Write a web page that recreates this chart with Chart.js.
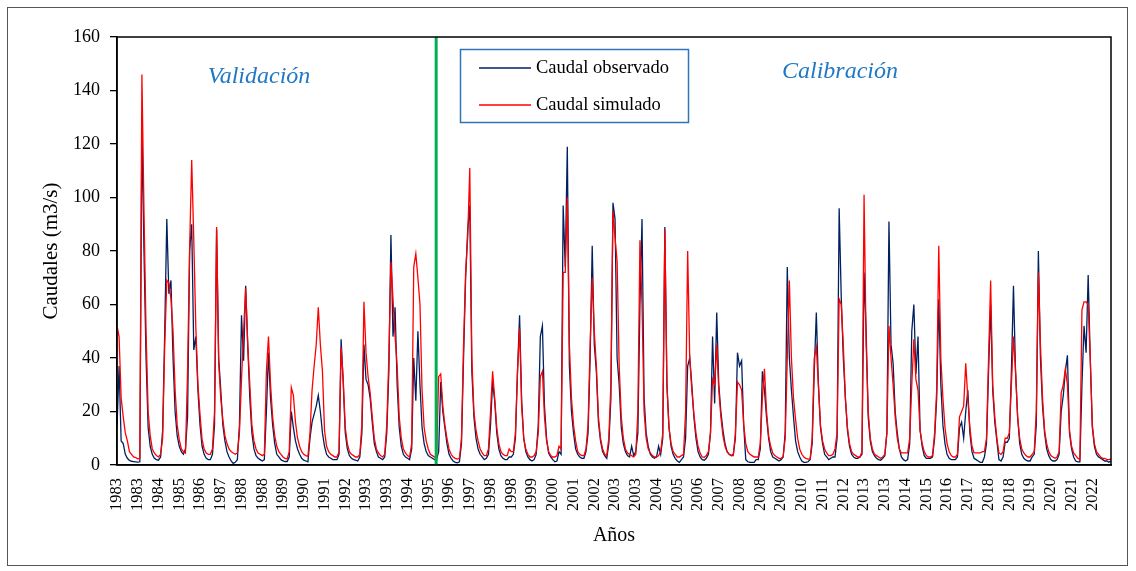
<!DOCTYPE html>
<html>
<head>
<meta charset="utf-8">
<script src="https://cdn.jsdelivr.net/npm/chart.js@4.4.0/dist/chart.umd.min.js"></script>
<style>
  body { margin: 0; background: #fff; }
  #wrap { width: 1136px; height: 571px; }
</style>
</head>
<body>
<div id="wrap"><canvas id="grafico" width="1136" height="571"></canvas></div>
<script>
// caudales mensuales (m3/s), ene 1983 - dic 2022, una fila por año
let observado = [
  14, 37, 9, 8, 4, 2.5, 1.7, 1.4, 1.3, 1.2, 1.1, 1.2,
  127, 80, 40, 14, 7, 4, 2.5, 2, 1.8, 3, 13, 50,
  92, 64, 69, 40, 20, 11, 7, 5, 4, 6, 18, 80,
  90, 43, 48, 28, 15, 7, 4, 2.5, 2, 2, 4, 15,
  88, 40, 28, 15, 9, 5, 3, 1.5, 0.6, 1, 2, 15,
  56, 39, 67, 45, 25, 12, 6, 3.5, 2.5, 2, 1.5, 2,
  20, 42, 25, 15, 8, 4, 3, 2, 1.5, 1.3, 1.3, 3,
  20, 14, 9, 6, 4, 2.5, 1.8, 1.5, 1.2, 10, 16, 19,
  22, 26, 20, 12, 7, 4, 3, 2.5, 2, 2, 2, 4,
  47, 31, 12, 6, 3.5, 2.5, 2, 1.8, 1.5, 3, 12, 45,
  32, 30, 25, 16, 8, 5, 3, 2.5, 2, 3, 12, 35,
  86, 48, 59, 30, 14, 7, 4, 3, 2.5, 2, 6, 40,
  24, 50, 30, 14, 8, 5, 3.5, 3, 2.5, 2, 2, 5,
  31, 20, 14, 8, 4, 2.5, 1.5, 1, 0.8, 1.2, 8, 40,
  70, 88, 97, 35, 18, 10, 6, 4, 3, 2, 2.5, 4,
  15, 31, 24, 12, 6, 3.5, 2.5, 2, 2, 3, 3, 4,
  10, 35, 56, 24, 10, 5, 3, 2, 1.5, 2, 4, 15,
  48, 52, 22, 10, 4.5, 3, 2, 1.2, 1.5, 5, 4, 97,
  74, 119, 37, 20, 12, 6, 4, 3, 2.5, 2.5, 5, 12,
  40, 82, 45, 35, 16, 9, 5, 3.5, 2.5, 8, 25, 98,
  92, 40, 30, 14, 8, 5, 3.5, 3, 7, 3.5, 5, 12,
  60, 92, 25, 12, 7, 4, 3, 2.5, 3, 7, 4, 10,
  89, 30, 14, 7, 4, 2.5, 1.5, 1, 2, 3, 10, 37,
  40, 30, 18, 10, 5, 3, 2, 1.8, 2.5, 4, 12, 48,
  23, 57, 30, 20, 13, 8, 5, 4, 3.5, 4, 10, 42,
  37, 39, 15, 2, 1.2, 1, 1, 1, 2, 2, 6, 35,
  28, 18, 10, 5, 3, 2.5, 2, 1.5, 2, 3, 12, 74,
  40, 28, 18, 9, 5, 3, 1.5, 1, 1, 1.2, 2, 8,
  35, 57, 30, 14, 8, 4, 3, 2, 2.5, 3, 3, 10,
  96, 63, 40, 25, 13, 7, 4, 3, 2.5, 2.5, 3, 4,
  72, 50, 18, 9, 5, 3.5, 2.5, 2, 1.8, 2.5, 3.5, 12,
  91, 45, 38, 20, 12, 6, 3, 2, 1.5, 2, 8, 50,
  60, 34, 48, 13, 7, 3.5, 2.5, 2.5, 2.5, 3, 10, 25,
  62, 30, 15, 8, 4, 2.5, 2, 2, 2, 3, 14, 16,
  10, 20, 28, 12, 5, 2.5, 2, 1.5, 1, 1, 3, 8,
  35, 60, 28, 16, 9, 2, 1.5, 3, 8.5, 8.5, 10, 35,
  67, 35, 18, 8, 4, 2.5, 1.8, 1.5, 1.5, 3, 4, 15,
  80, 40, 22, 12, 6, 3.5, 2, 1.5, 1.5, 2, 4, 20,
  26, 35, 41, 12, 6, 3, 1.5, 1.2, 1.2, 30, 52, 42,
  71, 40, 14, 7, 4, 3, 2.5, 2, 1.5, 1.5, 1, 1.5
]

let simulado = [
  52, 48, 25, 18, 12, 9, 5, 4, 3, 2.8, 2.3, 2.5,
  146, 95, 50, 20, 11, 6, 4.5, 3.5, 3, 4, 10, 45,
  69, 68, 62, 50, 28, 15, 9.5, 6, 5, 4.5, 35, 81,
  114, 84, 51, 30, 19, 9.5, 6, 4.5, 4, 4, 6, 20,
  89, 38, 25, 17, 11, 8, 6, 5, 4.5, 4, 4.5, 12,
  32, 50, 66, 45, 30, 15, 9, 6, 4.5, 4, 3.5, 4,
  35, 48, 30, 18, 11, 7, 5, 4, 3, 2.5, 2.3, 5,
  29, 26, 16, 10, 7, 5, 4, 3.5, 3.2, 12, 28, 37,
  45, 59, 45, 35, 13, 7, 5, 4, 3.5, 3, 3, 5,
  44, 32, 14, 8, 5, 4, 3.5, 3, 3, 4, 15, 61,
  42, 33, 27, 18, 10, 6, 4.5, 3.5, 3, 4, 15, 40,
  76, 62, 48, 37, 18, 10, 6, 4.5, 3.5, 3, 8, 74,
  79, 70, 60, 28, 14, 9, 6, 4, 3.5, 3, 3, 33,
  34, 22, 15, 10, 6, 4, 3, 2.5, 2.2, 2.5, 10, 45,
  72, 85, 111, 40, 20, 13, 9, 6, 4.5, 3.5, 3.5, 6,
  20, 35, 25, 14, 8, 5, 4, 3.5, 3.5, 6, 5, 5,
  12, 35, 51, 22, 10, 6, 4, 3, 3, 3.5, 5, 12,
  33, 35, 18, 9, 5, 3.5, 3, 3, 3.5, 7, 6, 72,
  72, 100, 45, 25, 15, 9, 5, 4, 3.5, 3.5, 6, 15,
  45, 70, 50, 37, 18, 10, 6, 4, 3.5, 10, 30, 95,
  85, 76, 37, 18, 10, 6, 4.5, 4, 3.5, 3, 4, 20,
  84, 60, 20, 10, 6, 4.5, 3.5, 3, 3, 3.5, 5, 12,
  88, 30, 14, 8, 5, 4, 3, 3, 3.5, 4, 20, 80,
  40, 28, 19, 12, 7, 4.5, 3, 2.9, 3.5, 5, 12, 32,
  30, 45, 28, 18, 11, 7, 5, 4, 3.5, 3.5, 12, 31,
  30, 28, 15, 8, 5, 4, 3.5, 3, 3, 3, 8, 25,
  36, 20, 11, 7, 4.5, 3.5, 3, 2.5, 2.5, 3, 10, 40,
  69, 40, 25, 17, 10, 6, 4, 3, 2.5, 2.2, 2.2, 10,
  40, 44, 30, 15, 9, 6, 4.5, 3.5, 3.5, 4, 6, 12,
  62, 60, 45, 25, 14, 8, 5, 4, 3.5, 3, 3, 5,
  101, 45, 20, 10, 6, 4, 3.5, 3, 2.5, 3, 4, 12,
  52, 40, 30, 18, 10, 6, 4.5, 4.5, 4.5, 4.5, 10, 30,
  47, 32, 28, 13, 8, 5, 3.5, 3, 3, 3.5, 12, 28,
  82, 40, 25, 14, 8, 5, 3.5, 3, 3, 4, 18, 20,
  22, 38, 25, 14, 7, 4.5, 4.5, 4.5, 4.5, 5, 5, 10,
  40, 69, 30, 18, 10, 4.5, 4, 5, 10, 10, 12, 30,
  48, 35, 18, 10, 6, 4.5, 3.5, 3, 3, 4, 5, 20,
  72, 45, 25, 13, 8, 5, 3.5, 3, 2.5, 3, 5, 27,
  30, 36, 30, 13, 7, 4.5, 3.5, 2.5, 2, 58, 61, 61,
  60, 40, 15, 8, 5, 4, 3, 2.5, 2.5, 2, 2, 2.2
]

// etiquetas del eje x, una cada 10 meses
let etiquetasAnios = ['1983','1983','1984','1985','1986','1987','1988','1988','1989','1990','1991','1992',
  '1993','1993','1994','1995','1996','1997','1998','1998','1999','2000','2001','2002',
  '2003','2003','2004','2005','2006','2007','2008','2008','2009','2010','2011','2012',
  '2013','2013','2014','2015','2016','2017','2018','2018','2019','2020','2021','2022']

let anioInicio = 1983
let lineaCorte = 153.8 // fin de validación / inicio de calibración (oct 1995)

let meses = []
for (let i = 0; i < observado.length; i++) {
  meses.push((anioInicio + Math.floor(i / 12)) + '-' + String(i % 12 + 1).padStart(2, '0'))
}

const serif = "'Liberation Serif', 'Times New Roman', serif"
Chart.defaults.font.family = serif
Chart.defaults.color = '#000'

const extras = {
  id: 'extras',
  afterDatasetsDraw(chart) {
    const ctx = chart.ctx
    const area = chart.chartArea
    const x = chart.scales.x.getPixelForValue(lineaCorte)
    ctx.save()
    ctx.strokeStyle = '#00B050'
    ctx.lineWidth = 3
    ctx.beginPath()
    ctx.moveTo(x, area.top)
    ctx.lineTo(x, area.bottom)
    ctx.stroke()
    ctx.restore()
  },
  afterDraw(chart) {
    const ctx = chart.ctx
    const area = chart.chartArea
    ctx.save()
    // marco del grafico
    ctx.strokeStyle = '#555'
    ctx.lineWidth = 1
    ctx.strokeRect(7.5, 7.5, 1120, 558)
    // marco del area de trazado
    ctx.strokeStyle = '#000'
    ctx.lineWidth = 1.5
    ctx.strokeRect(area.left, area.top, area.right - area.left, area.bottom - area.top)

    // leyenda
    ctx.fillStyle = '#fff'
    ctx.fillRect(460.5, 49.5, 228, 73)
    ctx.strokeStyle = '#2E75B6'
    ctx.lineWidth = 1.5
    ctx.strokeRect(460.5, 49.5, 228, 73)
    const filas = [68, 105]
    chart.data.datasets.forEach(function(ds, i) {
      ctx.strokeStyle = ds.borderColor
      ctx.lineWidth = 1.5
      ctx.beginPath()
      ctx.moveTo(479, filas[i])
      ctx.lineTo(531, filas[i])
      ctx.stroke()
      ctx.fillStyle = '#000'
      ctx.font = '18.5px ' + serif
      ctx.textAlign = 'left'
      ctx.textBaseline = 'middle'
      ctx.fillText(ds.label, 536, filas[i])
    })

    // periodos
    ctx.fillStyle = '#1F78C4'
    ctx.font = 'italic 24px ' + serif
    ctx.textAlign = 'center'
    ctx.textBaseline = 'alphabetic'
    ctx.fillText('Validación', 259, 83)
    ctx.fillText('Calibración', 840, 78)
    ctx.restore()
  }
}

var ctx = document.getElementById('grafico')
var grafico = new Chart(ctx, {
  type: 'line',
  data: {
    labels: meses,
    datasets: [
      {
        label: 'Caudal observado',
        data: observado,
        borderColor: '#002060',
        borderWidth: 1.3,
        pointRadius: 0,
        tension: 0,
        fill: false,
        order: 1
      },
      {
        label: 'Caudal simulado',
        data: simulado,
        borderColor: '#FF0000',
        borderWidth: 1.3,
        pointRadius: 0,
        tension: 0,
        fill: false,
        order: 0
      }
    ]
  },
  options: {
    responsive: false,
    animation: false,
    devicePixelRatio: 1,
    layout: { padding: { top: 37, right: 25, bottom: 0, left: 0 } },
    plugins: {
      legend: { display: false },
      tooltip: { enabled: false }
    },
    scales: {
      x: {
        type: 'category',
        offset: false,
        grid: { display: false, drawTicks: false },
        border: { display: true, color: '#000', width: 1.5 },
        ticks: {
          autoSkip: false,
          minRotation: 90,
          maxRotation: 90,
          padding: 13,
          color: '#000',
          font: { size: 16.5 },
          callback: function(v, i) {
            return i % 10 === 0 ? etiquetasAnios[i / 10] : null
          }
        },
        title: { display: true, text: 'Años', font: { size: 20 }, padding: { top: 0, bottom: 23 } },
        afterFit: function(s) { s.height = 106 }
      },
      y: {
        min: 0,
        max: 160,
        ticks: { stepSize: 20, padding: 10, color: '#000', font: { size: 18 } },
        grid: { drawOnChartArea: false, drawTicks: true, tickLength: 7, color: '#000', lineWidth: 1.3 },
        border: { display: true, color: '#000', width: 1.5 },
        title: { display: true, text: 'Caudales (m3/s)', font: { size: 21 }, padding: { top: 39, bottom: 0 } },
        afterFit: function(s) { s.width = 117 }
      }
    }
  },
  plugins: [extras]
})
</script>
</body>
</html>
